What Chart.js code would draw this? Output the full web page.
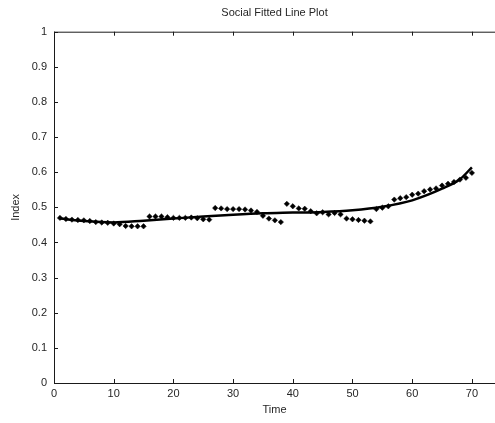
<!DOCTYPE html>
<html>
<head>
<meta charset="utf-8">
<script src="https://cdn.jsdelivr.net/npm/chart.js@4.4.1/dist/chart.umd.min.js"></script>
<style>
html,body{margin:0;padding:0;background:#fff;}
#wrap{width:495px;height:423px;position:relative;}
</style>
</head>
<body>
<div id="wrap"><canvas id="c" width="495" height="423"></canvas></div>
<script>
// Observed data
const times = [];
for (let t = 1; t <= 70; t++) times.push(t);
const indexValues = [
  0.470,0.467,0.465,0.464,0.463,0.461,0.458,0.457,0.456,0.454,
  0.452,0.447,0.446,0.446,0.446,0.474,0.474,0.474,0.472,0.470,
  0.470,0.470,0.471,0.469,0.466,0.465,0.498,0.497,0.495,0.495,
  0.495,0.494,0.491,0.487,0.476,0.468,0.463,0.458,0.510,0.503,
  0.497,0.496,0.489,0.483,0.486,0.480,0.484,0.480,0.468,0.466,
  0.464,0.462,0.460,0.495,0.499,0.503,0.522,0.526,0.529,0.536,
  0.539,0.546,0.551,0.554,0.562,0.567,0.572,0.579,0.584,0.598
];
// Fitted line read at sample times
const fitTimes  = [1, 5, 10, 15, 20, 25, 30, 35, 40, 45, 50, 55, 60, 65, 68, 70];
const fitValues = [0.468,0.461,0.457,0.462,0.468,0.474,0.479,0.483,0.485,0.487,0.492,0.502,0.520,0.553,0.580,0.614];
// Axis ticks
const xTicks = [0,10,20,30,40,50,60,70];
const yTicks = [0,0.1,0.2,0.3,0.4,0.5,0.6,0.7,0.8,0.9,1];

const TEXT = '#262626';
const FONT = 'Liberation Sans, Arial, sans-serif';

const frame = {
  id: 'frame',
  afterDraw(chart) {
    const {ctx, chartArea: a, scales: {x, y}} = chart;
    ctx.save();
    ctx.strokeStyle = '#1a1a1a';
    ctx.lineWidth = 1;
    ctx.beginPath();
    ctx.moveTo(a.left + 0.5, a.top + 0.5);
    ctx.lineTo(chart.width, a.top + 0.5);
    ctx.moveTo(a.left + 0.5, a.top);
    ctx.lineTo(a.left + 0.5, a.bottom + 0.5);
    ctx.lineTo(chart.width, a.bottom + 0.5);
    const L = 4;
    xTicks.forEach(v => {
      const px = Math.round(x.getPixelForValue(v)) + 0.5;
      ctx.moveTo(px, a.bottom); ctx.lineTo(px, a.bottom - L);
      ctx.moveTo(px, a.top); ctx.lineTo(px, a.top + L);
    });
    yTicks.forEach(v => {
      const py = Math.round(y.getPixelForValue(v)) + 0.5;
      ctx.moveTo(a.left, py); ctx.lineTo(a.left + L, py);
    });
    ctx.stroke();
    ctx.restore();
  }
};

new Chart(document.getElementById('c'), {
  data: {
    datasets: [
      {
        type: 'line',
        data: fitTimes.map((t, i) => ({x: t, y: fitValues[i]})),
        borderColor: '#000',
        borderWidth: 2.5,
        pointRadius: 0,
        cubicInterpolationMode: 'monotone',
        fill: false,
        order: 0
      },
      {
        type: 'scatter',
        data: times.map((t, i) => ({x: t, y: indexValues[i]})),
        pointStyle: 'rectRot',
        pointRadius: 2.7,
        backgroundColor: '#000',
        borderColor: '#000',
        borderWidth: 0.5,
        order: 1
      }
    ]
  },
  options: {
    responsive: false,
    animation: false,
    layout: {autoPadding: false, padding: 0},
    plugins: {
      legend: {display: false},
      tooltip: {enabled: false},
      title: {
        display: true,
        text: 'Social Fitted Line Plot',
        fullSize: false,
        color: TEXT,
        font: {family: FONT, size: 11, weight: 'normal'},
        padding: {top: 6, bottom: 12.5}
      }
    },
    scales: {
      x: {
        type: 'linear',
        min: 0,
        max: 73.87,
        afterBuildTicks(s) { s.ticks = xTicks.map(v => ({value: v})); },
        afterFit(s) { s.height = 40; },
        grid: {display: false, drawTicks: false},
        border: {display: false},
        ticks: {color: TEXT, font: {family: FONT, size: 11}, padding: 4, maxRotation: 0, autoSkip: false},
        title: {display: true, text: 'Time', color: TEXT, font: {family: FONT, size: 11}, padding: {top: 0, bottom: 6}}
      },
      y: {
        type: 'linear',
        min: 0,
        max: 1,
        afterBuildTicks(s) { s.ticks = yTicks.map(v => ({value: v})); },
        afterFit(s) { s.width = 54; },
        grid: {display: false, drawTicks: false},
        border: {display: false},
        ticks: {color: TEXT, font: {family: FONT, size: 11}, padding: 7, autoSkip: false,
                callback: v => String(Math.round(v * 10) / 10)},
        title: {display: true, text: 'Index', color: TEXT, font: {family: FONT, size: 11}, padding: {top: 9, bottom: 0}}
      }
    }
  },
  plugins: [frame]
});
</script>
</body>
</html>
